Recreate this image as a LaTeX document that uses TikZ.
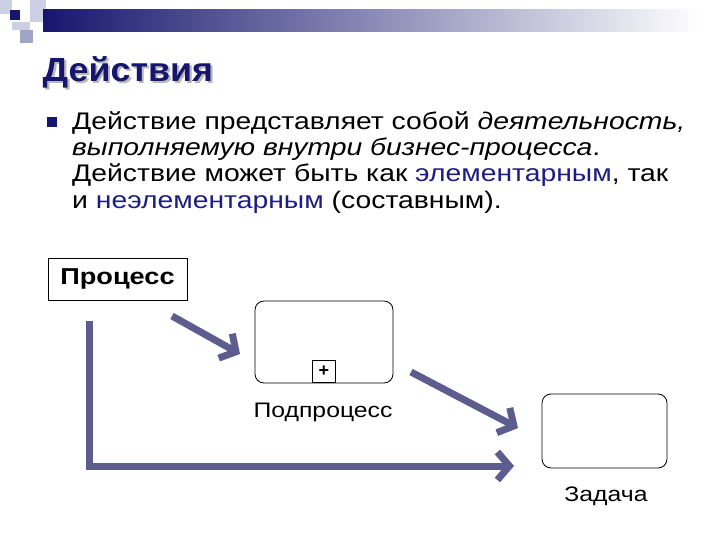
\documentclass[tikz,border=0pt]{standalone}
\usepackage{fontspec}
\setmainfont{Liberation Sans}
\usetikzlibrary{arrows.meta}
\definecolor{navy}{RGB}{22,22,110}
\definecolor{bluetxt}{RGB}{30,30,130}
\definecolor{arrowc}{RGB}{92,92,142}
\definecolor{lightsq}{RGB}{205,208,228}
\definecolor{midsq}{RGB}{160,165,200}
\newcommand{\wide}[1]{\scalebox{1.18}[1]{#1}}
\tikzset{
  bigarrow/.style={draw=arrowc, line width=7pt, -{Straight Barb[length=12pt,width=28pt]}},
  box/.style={draw, line width=0.8pt, rounded corners=9pt, fill=white},
  lbl/.style={font=\fontsize{21}{24}\selectfont, anchor=base, inner sep=0pt},
  body/.style={font=\fontsize{24}{26}\selectfont, anchor=base west, inner sep=0pt},
}
\begin{document}
\begin{tikzpicture}[x=1pt,y=-1pt]
\useasboundingbox (0,0) rectangle (720,540);
\fill[white] (0,0) rectangle (720,540);
% header decoration
\fill[lightsq] (0,0) rectangle (12,14);
\fill[lightsq] (30,0) rectangle (46,22);
\fill[lightsq] (12,22) rectangle (30,30);
\shade[left color=navy, right color=white] (43,10) rectangle (700,32);
\fill[midsq] (20,30) rectangle (33,43);
\fill[navy] (10,10) rectangle (20,20);
% title
\node (title) [anchor=base west, inner sep=0pt, font=\fontsize{33.5}{36}\bfseries\selectfont] at (42.5,82)
  {\scalebox{1.07}[1]{\makebox[0pt][l]{\hspace{2pt}\raisebox{-2pt}{\textcolor{gray!55}{Действия}}}\textcolor{navy}{Действия}}};
% bullet
\fill[navy] (47,117) rectangle (57,127) coordinate (bul);
\node (l1) [body] at (72,130) {\wide{Действие представляет собой \textit{деятельность,}}};
\node (l2) [body] at (72,156) {\wide{\textit{выполняемую внутри бизнес-процесса}.}};
\node (l3) [body] at (72,182) {\wide{Действие может быть как \textcolor{bluetxt}{элементарным}, так}};
\node (l4) [body] at (72,208) {\wide{и \textcolor{bluetxt}{неэлементарным} (составным).}};
% process box
\node (proc) [draw, line width=0.8pt, minimum width=139pt, minimum height=42pt, inner sep=0pt,
  font=\fontsize{23}{26}\bfseries\selectfont] at (117.5,279) {\wide{Процесс}};
% subprocess
\node (sub) [box, minimum width=138pt, minimum height=82pt] at (324,342) {};
\node (plus) [draw, line width=0.8pt, minimum width=23pt, minimum height=22pt, inner sep=0pt, anchor=south, yshift=0.4pt] at (sub.south) {\bfseries\fontsize{18}{18}\selectfont +};
\node (sublbl) [lbl] at (323,417) {\wide{Подпроцесс}};
% task
\node (task) [box, minimum width=125pt, minimum height=74pt] at (604.5,431) {};
\node (tasklbl) [lbl] at (606,501) {\wide{Задача}};
% arrows
\coordinate (a1s) at (172,316);
\coordinate (a1e) at (240,354);
\coordinate (a2s) at (411,372);
\coordinate (a2e) at (518,428);
\coordinate (a3s) at (89,321);
\coordinate (a3c) at (89,466);
\coordinate (a3e) at (514,466);
\draw[bigarrow] (a1s) -- (a1e);
\draw[bigarrow] (a2s) -- (a2e);
\draw[bigarrow] (a3s) -- (a3c) -- (a3e);
\end{tikzpicture}
\end{document}
